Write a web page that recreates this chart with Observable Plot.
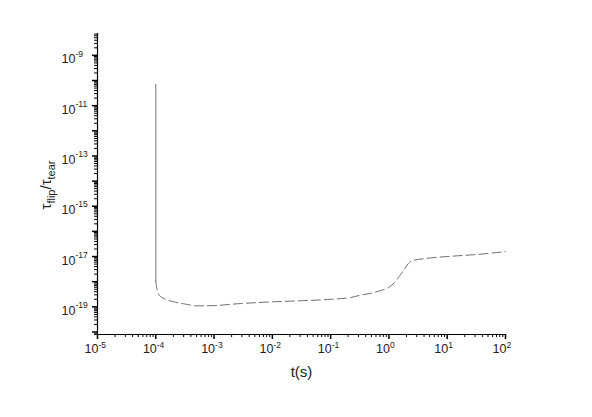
<!DOCTYPE html>
<html>
<head>
<meta charset="utf-8">
<script src="https://cdn.jsdelivr.net/npm/d3@7"></script>
<script src="https://cdn.jsdelivr.net/npm/@observablehq/plot@0.6"></script>
<style>
  html, body { margin: 0; padding: 0; background: #fff; }
</style>
</head>
<body>
<div id="chart"></div>
<script>
// Vertical (solid) part of the curve at t = 1e-4
const tVert = [1e-4, 1e-4];
const yVert = [7e-11, 1.07e-18];

// Dashed part of the curve
const tCurve = [1.0e-4, 1.05e-4, 1.12e-4, 1.26e-4, 1.48e-4, 2.0e-4, 3.2e-4, 5.0e-4, 1e-3, 1.9e-3, 2.9e-3, 1e-2, 3.0e-2, 0.1, 0.22, 0.32, 0.5, 0.71, 1.0, 1.26, 1.55, 1.86, 2.14, 2.5, 4.2, 11.2, 31.6, 100];
const yCurve = [1.07e-18, 5.0e-19, 3.2e-19, 2.4e-19, 2.0e-19, 1.6e-19, 1.29e-19, 1.10e-19, 1.12e-19, 1.26e-19, 1.35e-19, 1.58e-19, 1.74e-19, 2.0e-19, 2.34e-19, 2.9e-19, 3.5e-19, 4.4e-19, 6.0e-19, 9.5e-19, 1.78e-18, 3.2e-18, 5.2e-18, 6.8e-18, 8.3e-18, 1.02e-17, 1.2e-17, 1.58e-17];

// Tick labels
const xTickValues = [1e-5, 1e-4, 1e-3, 1e-2, 1e-1, 1e0, 1e1, 1e2];
const xTickExps = ["-5", "-4", "-3", "-2", "-1", "0", "1", "2"];
const yTickValues = [1e-19, 1e-17, 1e-15, 1e-13, 1e-11, 1e-9];
const yTickExps = ["-19", "-17", "-15", "-13", "-11", "-9"];

const xDomain = [1e-5, 1e2];
const yDomain = [Math.pow(10, -20.1), Math.pow(10, -8.13)];

const vert = tVert.map((t, i) => ({t, y: yVert[i]}));
const curve = tCurve.map((t, i) => ({t, y: yCurve[i]}));
const xLabels = xTickValues.map((v, i) => ({v, e: xTickExps[i]}));
const yLabels = yTickValues.map((v, i) => ({v, e: yTickExps[i]}));

function logTicks(lo, hi) {
  const major = [], minor = [];
  for (let d = Math.floor(Math.log10(lo)); d <= Math.ceil(Math.log10(hi)); d++) {
    const b = Math.pow(10, d);
    if (b >= lo * 0.9999 && b <= hi * 1.0001) major.push(b);
    for (let m = 2; m <= 9; m++) {
      const v = m * b;
      if (v >= lo && v <= hi) minor.push(v);
    }
  }
  return {major, minor};
}
const xt = logTicks(xDomain[0], xDomain[1]);
const yt = logTicks(yDomain[0], yDomain[1]);

const font = "Liberation Sans, Arial, Helvetica, sans-serif";

const svg = Plot.plot({
  width: 592,
  height: 417,
  marginLeft: 97,
  marginRight: 87,
  marginTop: 33,
  marginBottom: 83,
  style: {fontFamily: font, background: "#fff", color: "#000"},
  x: {type: "log", domain: xDomain},
  y: {type: "log", domain: yDomain},
  marks: [
    Plot.axisX({ticks: xt.minor, tickSize: 3, tickFormat: () => "", label: null, strokeWidth: 1}),
    Plot.axisX({ticks: xt.major, tickSize: 5, tickFormat: () => "", label: null, strokeWidth: 1.5}),
    Plot.axisY({ticks: yt.minor, tickSize: 3, tickFormat: () => "", label: null, strokeWidth: 1}),
    Plot.axisY({ticks: yt.major, tickSize: 5, tickFormat: () => "", label: null, strokeWidth: 1.5}),
    Plot.ruleY([yDomain[0]], {stroke: "#000", strokeWidth: 1.2}),
    Plot.ruleX([xDomain[0]], {stroke: "#000", strokeWidth: 1.2}),
    // x tick labels
    Plot.text(xLabels, {x: "v", text: () => "10", frameAnchor: "bottom", dy: 18, dx: 1, textAnchor: "end", fontSize: 12.5, fill: "#222"}),
    Plot.text(xLabels, {x: "v", text: "e", frameAnchor: "bottom", dy: 13, dx: 1, textAnchor: "start", fontSize: 8.5, fill: "#222"}),
    // y tick labels
    Plot.text(yLabels, {y: "v", text: () => "10", frameAnchor: "left", dy: 4, dx: -22, textAnchor: "end", fontSize: 12.5, fill: "#222"}),
    Plot.text(yLabels, {y: "v", text: "e", frameAnchor: "left", dy: -1.5, dx: -22, textAnchor: "start", fontSize: 8.5, fill: "#222"}),
    // data
    Plot.line(vert, {x: "t", y: "y", stroke: "#8a8a8a", strokeWidth: 1.2}),
    Plot.line(curve, {x: "t", y: "y", stroke: "#6f6f6f", strokeWidth: 1, strokeDasharray: "9,4", curve: "monotone-x"}),
    // x axis title
    Plot.text(["t(s)"], {frameAnchor: "bottom", dy: 42, text: d => d, fontSize: 15, fill: "#222"})
  ]
});

const s = d3.select(svg);
const yl = s.append("text")
  .attr("transform", "translate(51,185) rotate(-90)")
  .attr("text-anchor", "middle")
  .attr("font-family", font)
  .attr("font-size", 15)
  .attr("fill", "#222");
yl.append("tspan").text("τ");
yl.append("tspan").attr("font-size", 11).attr("dy", 4).text("flip");
yl.append("tspan").attr("dy", -4).text("/τ");
yl.append("tspan").attr("font-size", 11).attr("dy", 4).text("tear");

document.getElementById("chart").appendChild(svg);
</script>
</body>
</html>
